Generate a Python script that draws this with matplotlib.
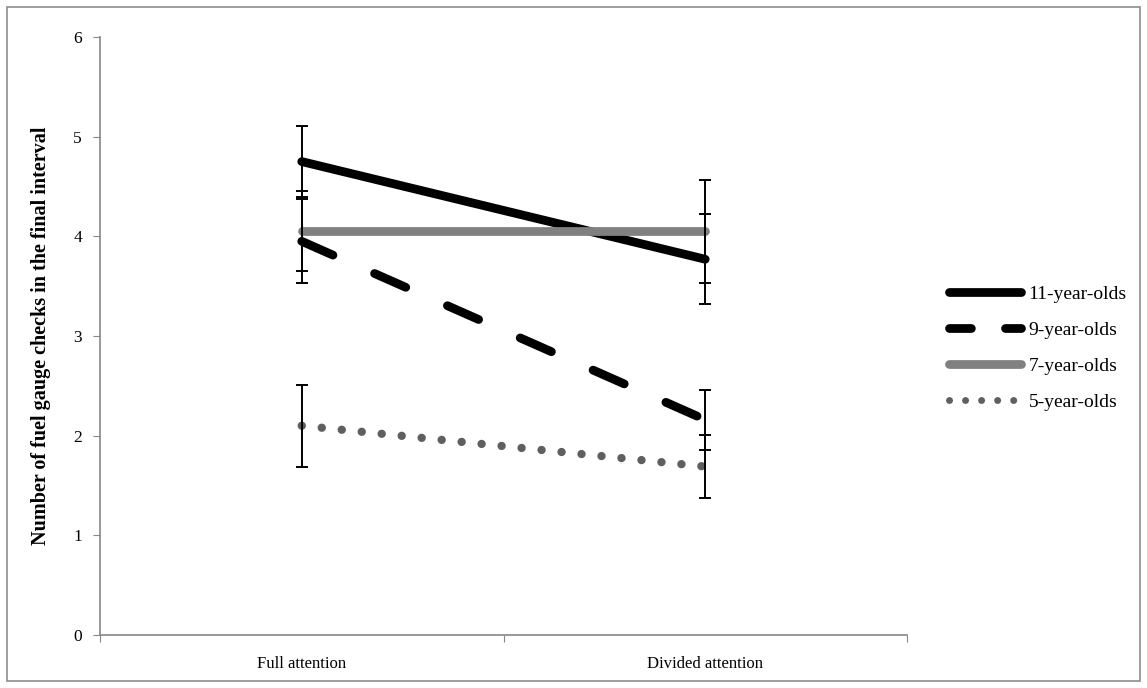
import matplotlib.pyplot as plt
from matplotlib.patches import Rectangle
from matplotlib.lines import Line2D

conditions = ['Full attention', 'Divided attention']
groups = ['11-year-olds', '9-year-olds', '7-year-olds', '5-year-olds']
means_11 = [4.75, 3.77]
means_9 = [3.95, 2.16]
means_7 = [4.05, 4.05]
means_5 = [2.10, 1.69]
err_11 = [0.36, 0.45]
err_9 = [0.42, 0.30]
err_7 = [0.40, 0.52]
err_5 = [0.41, 0.32]

plt.rcParams['font.family'] = ['Liberation Serif', 'DejaVu Serif']

fig = plt.figure(figsize=(11.47, 6.88), dpi=100)
ax = fig.add_axes([100 / 1147, 53 / 688, 807 / 1147, 598 / 688])

# outer frame of the chart area
fig.patches.append(Rectangle((7 / 1147, 7 / 688), 1133 / 1147, 674 / 688,
                             transform=fig.transFigure, fill=False,
                             edgecolor='#8c8c8c', linewidth=1.2))

xpos = [0.5, 1.5]
series = [
    (means_11, err_11, dict(color='black', linestyle='-', linewidth=6.3)),
    (means_9, err_9, dict(color='black', linestyle=(0, (3.9, 5.2)),
                          linewidth=6.3)),
    (means_7, err_7, dict(color='#808080', linestyle='-', linewidth=6.3)),
    (means_5, err_5, dict(color='#5f5f5f', linestyle=(0, (0.01, 2.4)),
                          linewidth=6)),
]

for (m, e, style), label in zip(series, groups):
    ax.plot(xpos, m, solid_capstyle='round', dash_capstyle='round',
            label=label, **style)

for (m, e, style) in series:
    ax.errorbar(xpos, m, yerr=e, fmt='none', ecolor='black',
                elinewidth=1.4, capsize=4.5, capthick=1.4, zorder=5)

ax.set_xlim(0, 2)
ax.set_ylim(0, 6)
ax.set_yticks(range(7))
ax.set_xticks([0, 1, 2])
ax.set_xticklabels([])
ax.set_xticks(xpos, minor=True)
ax.set_xticklabels(conditions, minor=True)
ax.tick_params(axis='x', which='minor', length=0, pad=15, labelsize=12)
ax.tick_params(axis='x', which='major', length=5, color='#868686',
               direction='out')
ax.tick_params(axis='y', length=5, color='#868686', direction='out',
               pad=8, labelsize=12.5)

for side in ['top', 'right']:
    ax.spines[side].set_visible(False)
for side in ['left', 'bottom']:
    ax.spines[side].set_color('#868686')
    ax.spines[side].set_linewidth(1.2)

ax.set_ylabel('Number of fuel gauge checks in the final interval',
              fontsize=14.5, fontweight='bold', labelpad=16)

# legend keys drawn with the shorter dash pattern used in the legend box
handles = [
    Line2D([], [], color='black', linewidth=6.3, solid_capstyle='round'),
    Line2D([], [], color='black', linewidth=6.3, linestyle=(0, (2.5, 3.9)),
           dash_capstyle='round'),
    Line2D([], [], color='#808080', linewidth=6.3, solid_capstyle='round'),
    Line2D([], [], color='#5f5f5f', linewidth=5, linestyle=(0, (0.01, 2.3)),
           dash_capstyle='round'),
]
ax.legend(handles, groups, loc='center left', bbox_to_anchor=(1.03, 0.48),
          frameon=False, fontsize=14, handlelength=3.7, handletextpad=0.4,
          labelspacing=0.95)

plt.savefig('out.png', dpi=100)
plt.close()
